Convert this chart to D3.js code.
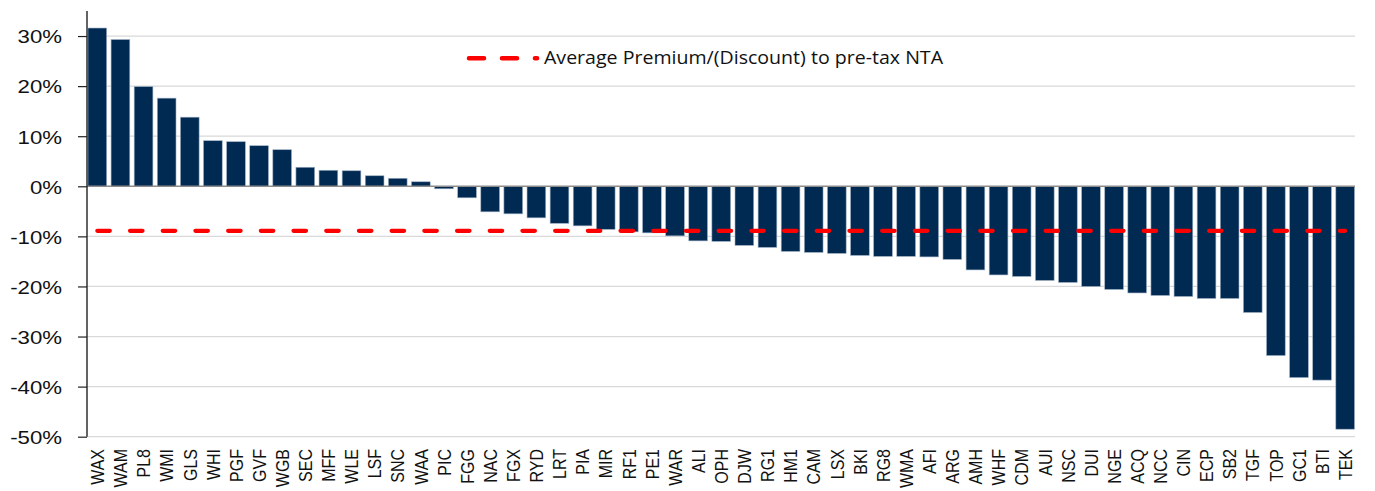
<!DOCTYPE html>
<html>
<head>
<meta charset="utf-8">
<script src="https://cdn.jsdelivr.net/npm/d3@7"></script>
<style>
  body { margin: 0; background: #fff; }
  .ylab, .xlab { font-family: "Liberation Sans", Arial, sans-serif; fill: #111; }
  .legend_text { font-family: "Open Sans", sans-serif; fill: #111; }
</style>
</head>
<body>
<div id="chart"></div>
<script>
var categories = ["WAX","WAM","PL8","WMI","GLS","WHI","PGF","GVF","WGB","SEC","MFF","WLE","LSF","SNC","WAA",
  "PIC","FGG","NAC","FGX","RYD","LRT","PIA","MIR","RF1","PE1","WAR","ALI","OPH","DJW","RG1","HM1","CAM",
  "LSX","BKI","RG8","WMA","AFI","ARG","AMH","WHF","CDM","AUI","NSC","DUI","NGE","ACQ","NCC","CIN","ECP",
  "SB2","TGF","TOP","GC1","BTI","TEK"];

// premium/(discount) to pre-tax NTA, in %
var values = [31.6,29.3,19.9,17.6,13.8,9.1,8.9,8.1,7.3,3.8,3.2,3.1,2.1,1.6,0.9,
  -0.5,-2.3,-5.1,-5.5,-6.3,-7.4,-7.9,-8.6,-9.1,-9.3,-9.9,-10.9,-11.0,-11.8,-12.2,-13.0,-13.2,
  -13.4,-13.8,-14.0,-14.0,-14.1,-14.6,-16.7,-17.7,-18.0,-18.8,-19.2,-20.0,-20.6,-21.3,-21.8,-22.0,-22.4,
  -22.4,-25.2,-33.8,-38.2,-38.7,-48.5];

var averageValue = -8.9;
var yTicks = [30,20,10,0,-10,-20,-30,-40,-50];
var legendLabel = "Average Premium/(Discount) to pre-tax NTA";

var width = 1375,
    height = 491,
    stretch = 1.17; // the reference text is a bit wider than it is tall

var data = categories.map(function(c, i){ return {name: c, value: values[i]}; });

var svg = d3.select("#chart").append("svg")
  .attr("width", width)
  .attr("height", height);

var x = d3.scaleBand()
  .domain(categories)
  .range([87.5, 1355])
  .paddingInner(0.19)
  .paddingOuter(0.02);

var y = d3.scaleLinear()
  .domain([-50, 35])
  .range([436.7, 11]);

// gridlines
svg.append("g")
  .selectAll("line")
  .data(yTicks.filter(function(d){ return d !== 0; }))
  .enter()
  .append("line")
  .attr("x1", 87)
  .attr("x2", 1355)
  .attr("y1", function(d){ return y(d); })
  .attr("y2", function(d){ return y(d); })
  .style("stroke", "#d9d9d9")
  .style("stroke-width", 1.2);

// bars
svg.append("g")
  .selectAll("rect")
  .data(data)
  .enter()
  .append("rect")
  .attr("x", function(d){ return x(d.name); })
  .attr("width", x.bandwidth())
  .attr("y", function(d){ return y(Math.max(0, d.value)); })
  .attr("height", function(d){ return Math.abs(y(d.value) - y(0)); })
  .style("fill", "#012a53")
  .style("stroke", "#9fb0c4")
  .style("stroke-width", 0.6);

// zero line
svg.append("line")
  .attr("x1", 87)
  .attr("x2", 1355)
  .attr("y1", y(0))
  .attr("y2", y(0))
  .style("stroke", "#8c8c8c")
  .style("stroke-width", 1.6);

// average line, from first to last category centre
var half = x.bandwidth() / 2;
svg.append("line")
  .attr("x1", x(categories[0]) + half)
  .attr("x2", x(categories[categories.length - 1]) + half)
  .attr("y1", y(averageValue))
  .attr("y2", y(averageValue))
  .style("stroke", "#ff0000")
  .style("stroke-width", 4.2)
  .style("stroke-linecap", "round")
  .style("stroke-dasharray", "12.5,20.2");

// y axis
var yAxis = svg.append("g")
  .attr("transform", "translate(87,0)")
  .call(d3.axisLeft(y)
    .tickValues(yTicks)
    .tickSize(9)
    .tickFormat(function(d){ return d + "%"; }));

yAxis.select(".domain")
  .attr("d", "M0," + y(35) + "V" + y(-50))
  .style("stroke", "#222")
  .style("stroke-width", 1.4);
yAxis.selectAll(".tick line").style("stroke", "#222").style("stroke-width", 1.2);
yAxis.selectAll(".tick text")
  .attr("class", "ylab")
  .attr("x", -25 / stretch)
  .attr("dy", "0.36em")
  .attr("transform", "scale(" + stretch + ",1)")
  .style("font-size", "19px")
  .style("font-family", null);

// category labels, rotated
svg.append("g")
  .selectAll("text")
  .data(categories)
  .enter()
  .append("text")
  .attr("class", "xlab")
  .attr("transform", function(d){
    return "translate(" + (x(d) + half) + ",449) scale(" + stretch + ",1) rotate(-90)";
  })
  .attr("text-anchor", "end")
  .attr("dy", "0.36em")
  .style("font-size", "16px")
  .text(function(d){ return d; });

// legend
svg.append("line")
  .attr("x1", 469)
  .attr("x2", 537)
  .attr("y1", 58.3)
  .attr("y2", 58.3)
  .style("stroke", "#ff0000")
  .style("stroke-width", 4.6)
  .style("stroke-linecap", "round")
  .style("stroke-dasharray", "15,18");

svg.append("text")
  .attr("class", "legend_text")
  .attr("x", 544)
  .attr("y", 64.3)
  .attr("textLength", 399)
  .attr("lengthAdjust", "spacingAndGlyphs")
  .style("font-size", "18.5px")
  .text(legendLabel);
</script>
</body>
</html>
